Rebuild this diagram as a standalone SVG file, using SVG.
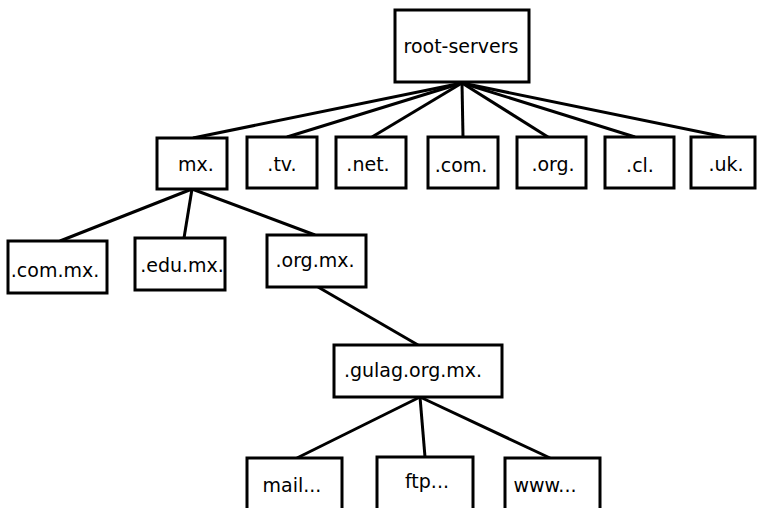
<svg xmlns="http://www.w3.org/2000/svg" width="757" height="508" viewBox="0 0 757 508">
<style>
.box{fill:#fff;stroke:#000;stroke-width:3}
.lbl{font-family:"DejaVu Sans",sans-serif;font-size:19px;fill:#000;text-anchor:middle}
.edge{stroke:#000;stroke-width:3;fill:none}
</style>
<rect width="757" height="508" fill="#fff"/>
<g id="connectors">
<line class="edge" x1="462" y1="83" x2="193" y2="138"/>
<line class="edge" x1="462" y1="83" x2="287" y2="137"/>
<line class="edge" x1="462" y1="83" x2="372" y2="137"/>
<line class="edge" x1="462" y1="83" x2="463" y2="137"/>
<line class="edge" x1="462" y1="83" x2="548" y2="137"/>
<line class="edge" x1="462" y1="83" x2="635" y2="137"/>
<line class="edge" x1="462" y1="83" x2="725" y2="137"/>
<line class="edge" x1="192" y1="189" x2="60" y2="241"/>
<line class="edge" x1="192" y1="189" x2="184" y2="238"/>
<line class="edge" x1="192" y1="189" x2="315" y2="235"/>
<line class="edge" x1="318" y1="287" x2="418" y2="345"/>
<line class="edge" x1="420" y1="397" x2="297" y2="458"/>
<line class="edge" x1="420" y1="397" x2="425" y2="457"/>
<line class="edge" x1="420" y1="397" x2="550" y2="458"/>
</g>
<g id="root"><rect class="box" x="395" y="10" width="134" height="72"/><text class="lbl" x="461" y="53">root-servers</text></g>
<g id="mx"><rect class="box" x="157" y="138" width="70" height="51"/><text class="lbl" x="196" y="171">mx.</text></g>
<g id="tv"><rect class="box" x="247" y="137" width="70" height="51"/><text class="lbl" x="282" y="171">.tv.</text></g>
<g id="net"><rect class="box" x="336" y="137" width="70" height="51"/><text class="lbl" x="368" y="171">.net.</text></g>
<g id="com"><rect class="box" x="428" y="137" width="70" height="51"/><text class="lbl" x="461" y="172">.com.</text></g>
<g id="org"><rect class="box" x="517" y="137" width="69" height="51"/><text class="lbl" x="553" y="171">.org.</text></g>
<g id="cl"><rect class="box" x="605" y="137" width="69" height="51"/><text class="lbl" x="640" y="172">.cl.</text></g>
<g id="uk"><rect class="box" x="691" y="137" width="64" height="51"/><text class="lbl" x="726" y="171">.uk.</text></g>
<g id="commx"><rect class="box" x="8" y="241" width="99" height="52"/><text class="lbl" x="55" y="277">.com.mx.</text></g>
<g id="edumx"><rect class="box" x="135" y="238" width="90" height="52"/><text class="lbl" x="182" y="272">.edu.mx.</text></g>
<g id="orgmx"><rect class="box" x="267" y="235" width="99" height="52"/><text class="lbl" x="315" y="267">.org.mx.</text></g>
<g id="gulag"><rect class="box" x="334" y="345" width="168" height="52"/><text class="lbl" x="413" y="377">.gulag.org.mx.</text></g>
<g id="mail"><rect class="box" x="247" y="458" width="95" height="60"/><text class="lbl" x="292" y="492">mail...</text></g>
<g id="ftp"><rect class="box" x="377" y="457" width="96" height="60"/><text class="lbl" x="427" y="488">ftp...</text></g>
<g id="www"><rect class="box" x="505" y="458" width="95" height="60"/><text class="lbl" x="545" y="492">www...</text></g>
</svg>
